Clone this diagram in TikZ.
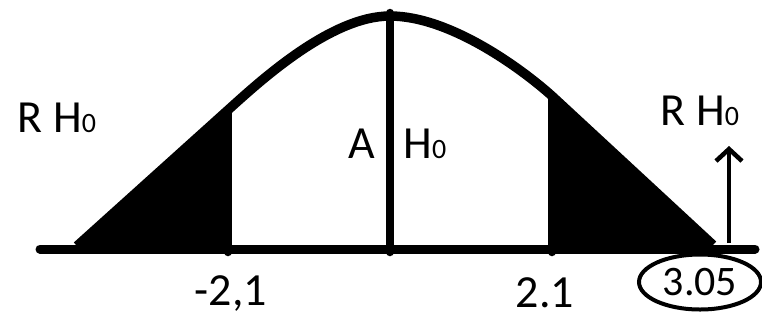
\documentclass[tikz,border=0pt]{standalone}
\usepackage{fontspec}
\setmainfont{Carlito}
\usetikzlibrary{arrows.meta,shapes.geometric}
\newcommand\subz{{\fontsize{28}{28}\selectfont 0}}
\begin{document}
\begin{tikzpicture}[x=1pt,y=-1pt,
  curveline/.style={line width=9.5pt,line join=round},
  vline/.style={line width=8.5pt,line cap=round},
  baseline/.style={line width=9pt,line cap=round},
  lbl/.style={inner sep=0pt,font=\fontsize{46}{46}\selectfont,anchor=base},
  ]
\useasboundingbox (0,0) rectangle (762,322);
% key points
\coordinate (lt) at (77,246);
\coordinate (lc) at (228,110);
\coordinate (pk) at (390,16);
\coordinate (rc) at (552,96);
\coordinate (rt) at (713,245);
\coordinate (b1) at (228,252);
\coordinate (b0) at (390,252);
\coordinate (b2) at (552,252);
\coordinate (bl) at (40,249);
\coordinate (br) at (755,249);
% shaded tails
\fill (lt) -- (lc) -- (b1) -- (77,251) -- cycle;
\fill (rc) -- (rt) -- (713,251) -- (b2) -- cycle;
% curve
\draw[curveline] (lt) -- (lc) .. controls (258,83) and (330,16) .. (pk)
  .. controls (450,16) and (522,69) .. (rc) -- (rt);
% baseline
\draw[baseline] (bl) -- (br);
% vertical lines
\draw[vline] (390,13) -- (b0);
\draw[vline] (lc) -- (b1);
\draw[vline] (rc) -- (b2);
% labels
\node[lbl] (rl) at (57,132) {R H\subz};
\node[lbl] (ra) at (362,158) {A};
\node[lbl] (rh) at (425,158) {H\subz};
\node[lbl] (rr) at (700,125) {R H\subz};
\node[lbl] (m1) at (231,305) {-2,1};
\node[lbl] (p1) at (545,307) {2.1};
\node[ellipse,draw,line width=4pt,minimum width=122pt,minimum height=55pt,inner sep=0pt,
  font=\fontsize{42}{42}\selectfont] (val) at (700,282) {3.05};
% arrow
\coordinate (as) at (729,243);
\coordinate (ae) at (729,146);
\draw[line width=4.5pt,-{Straight Barb[length=12pt,width=26pt,line width=4.5pt]}] (as) -- (ae);
\end{tikzpicture}
\end{document}
